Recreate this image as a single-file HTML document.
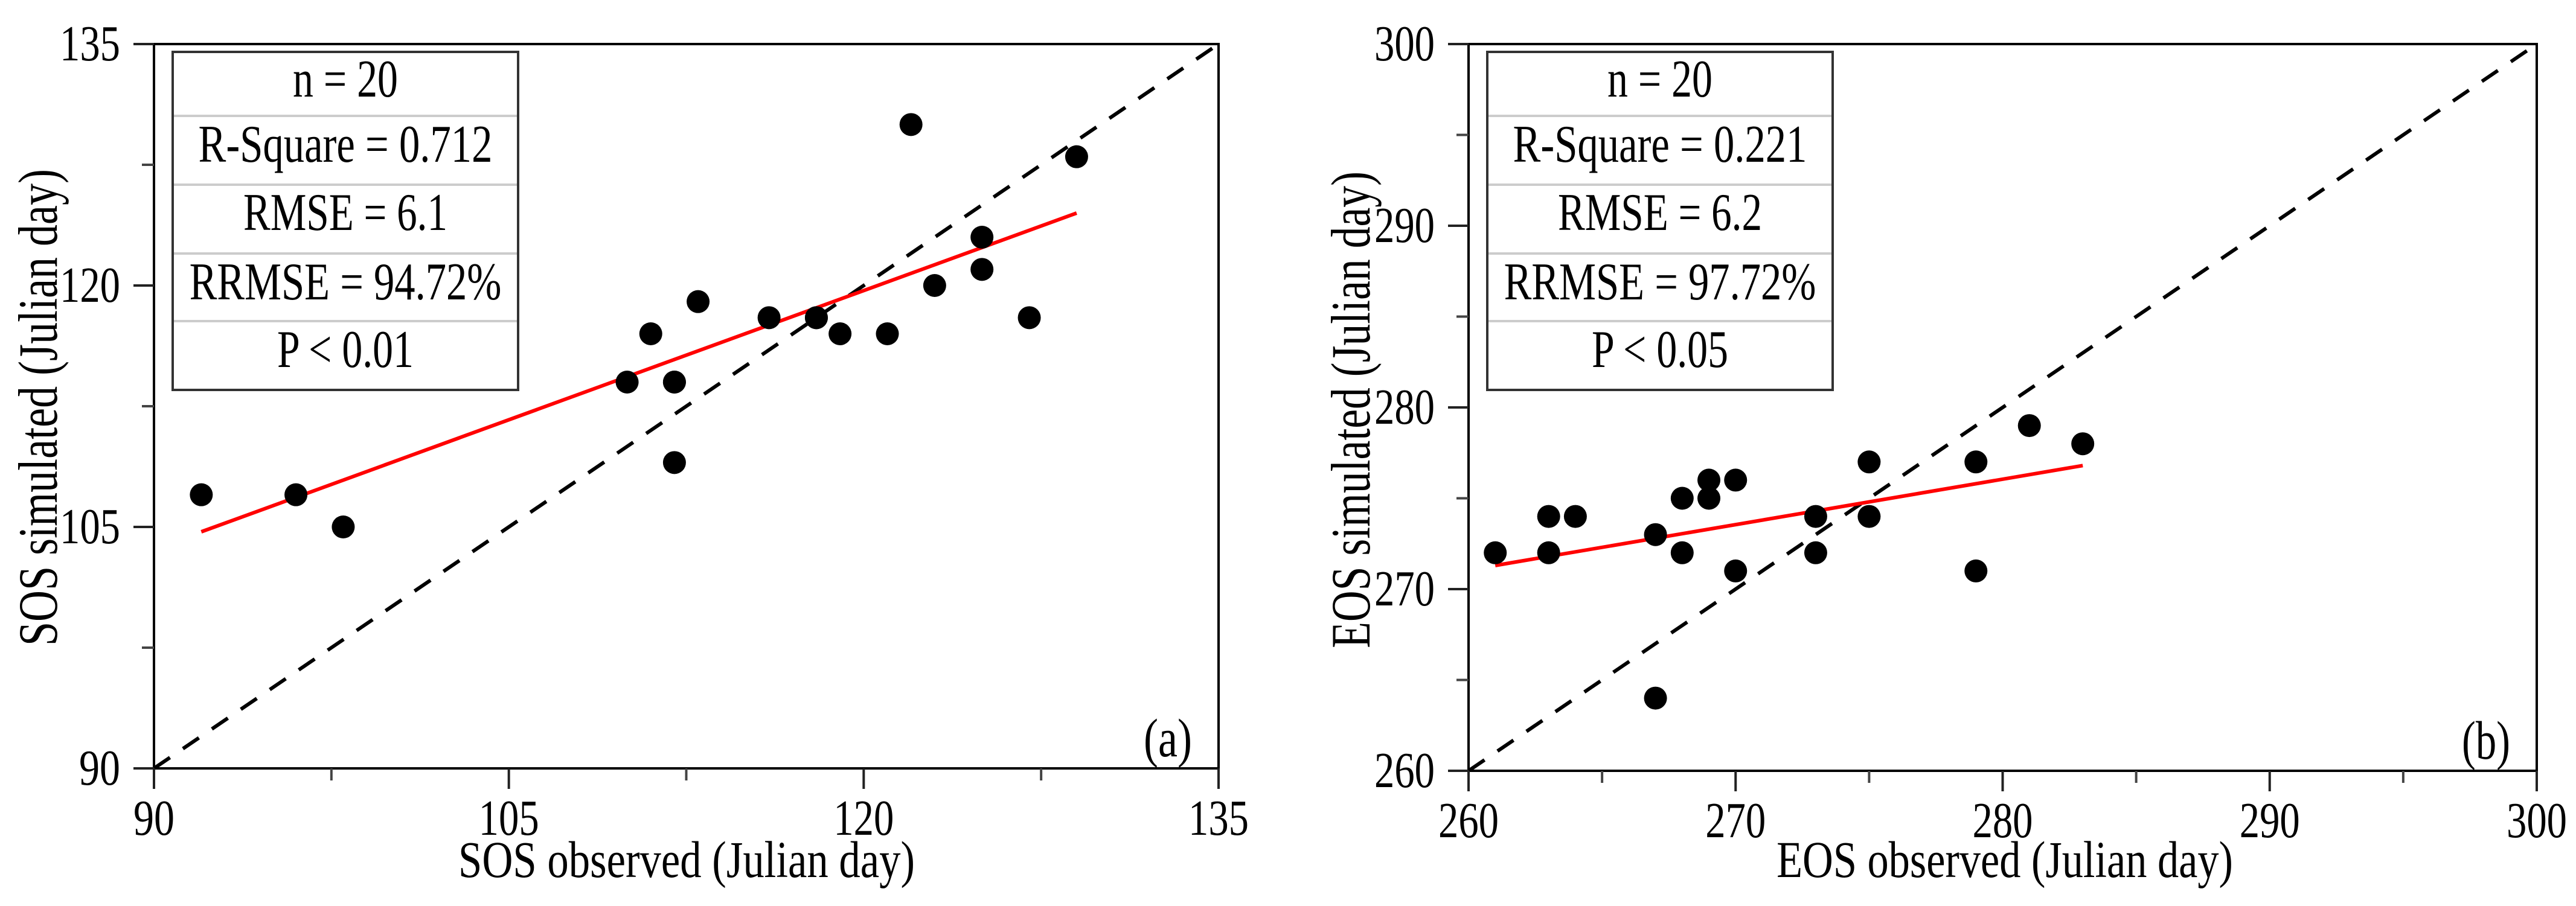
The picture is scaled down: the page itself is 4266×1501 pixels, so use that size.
<!DOCTYPE html>
<html><head><meta charset="utf-8"><style>
html,body{margin:0;padding:0;background:#fff;}
svg{display:block;}
text{font-family:"Liberation Serif","DejaVu Serif",serif;fill:#000;}
</style></head><body>
<svg id="chart" width="4266" height="1501" viewBox="0 0 4266 1501" xmlns="http://www.w3.org/2000/svg">
<rect width="4266" height="1501" fill="#fff"/>
<g id="panelA"></g>
<g id="panelB"></g>
</svg>
<script>
// Panel (a) SOS data
const sosObserved = [92,96,98,110,111,112,112,113,116,118,119,121,122,123,125,125,127,129,118,112];
const sosSimulated = [107,107,105,114,117,114,109,119,118,118,117,117,130,120,123,121,118,128,118,114];
const sosFitX = [92,129];
const sosFitY = [104.7,124.5];
const sosTicks = [90,105,120,135];
const sosStats = ["n = 20","R-Square = 0.712","RMSE = 6.1","RRMSE = 94.72%","P < 0.01"];
// Panel (b) EOS data
const eosObserved = [261,263,263,264,267,267,268,268,269,269,270,270,273,273,275,275,279,279,281,283];
const eosSimulated = [272,274,272,274,273,264,275,272,276,275,276,271,274,272,277,274,277,271,279,278];
const eosFitX = [261,283];
const eosFitY = [271.3,276.8];
const eosTicks = [260,270,280,290,300];
const eosStats = ["n = 20","R-Square = 0.221","RMSE = 6.2","RRMSE = 97.72%","P < 0.05"];

const NS="http://www.w3.org/2000/svg";
function mk(parent,tag,attrs,txt){const e=document.createElementNS(NS,tag);for(const k in attrs)e.setAttribute(k,attrs[k]);if(txt!==undefined)e.textContent=txt;parent.appendChild(e);return e;}
function fitText(parent,str,x,y,size,anchor,width,rot){
  const t=mk(parent,'text',{x:0,y:0,'font-size':size,'text-anchor':anchor},str);
  let w=t.getComputedTextLength();
  if(!w||!isFinite(w)) w=width;
  const k=width/w;
  t.setAttribute('transform',`translate(${x},${y})${rot?' rotate('+rot+')':''} scale(${k},1)`);
  return t;
}

function panel(g,cfg){
  const sx=v=>cfg.x0+(v-cfg.min)/(cfg.max-cfg.min)*(cfg.x1-cfg.x0);
  const sy=v=>cfg.yb-(v-cfg.min)/(cfg.max-cfg.min)*(cfg.yb-cfg.yt);
  const d=mk(g,'line',{x1:sx(cfg.min),y1:sy(cfg.min),x2:sx(cfg.max),y2:sy(cfg.max),stroke:'#000','stroke-width':6,'stroke-dasharray':'32 26'});
  
  
  const f=mk(g,'rect',{x:cfg.x0,y:cfg.yt,width:cfg.x1-cfg.x0,height:cfg.yb-cfg.yt,fill:'none',stroke:'#000','stroke-width':4});
  
  
  for(let i=0;i<cfg.ticks.length;i++){
    const v=cfg.ticks[i];
    const tx=mk(g,'line',{x1:sx(v),y1:cfg.yb,x2:sx(v),y2:cfg.yb+34,stroke:'#222','stroke-width':4});
    
    
    const ty=mk(g,'line',{x1:cfg.x0-34,y1:sy(v),x2:cfg.x0,y2:sy(v),stroke:'#222','stroke-width':4});
    
    
    const s=String(v); const tw=s.length===3?100:68;
    const lx=fitText(g,s,sx(v),cfg.yb+110,84,'middle',tw);
    
    
    const ly=fitText(g,s,cfg.x0-56,sy(v)+27,84,'end',tw);
    
    
    if(i<cfg.ticks.length-1){
      const m=(v+cfg.ticks[i+1])/2;
      const mx=mk(g,'line',{x1:sx(m),y1:cfg.yb,x2:sx(m),y2:cfg.yb+20,stroke:'#444','stroke-width':4});
      
      
      const my=mk(g,'line',{x1:cfg.x0-20,y1:sy(m),x2:cfg.x0,y2:sy(m),stroke:'#444','stroke-width':4});
      
      
    }
  }
  const bx=cfg.x0+31, bw=572, by=86, bh=560;
  const box=mk(g,'rect',{x:bx,y:by,width:bw,height:bh,fill:'#fff',stroke:'#333','stroke-width':4});
  
  
  [192,306,420,532].forEach(y=>{const l=mk(g,'line',{x1:bx+2,y1:y,x2:bx+bw-2,y2:y,stroke:'#ccc','stroke-width':4});
    
    });
  const bases=[160,268,381,496,608];
  const lens=[174,487,338,517,226];
  cfg.stats.forEach((s,i)=>{
    const t=fitText(g,s,bx+bw/2,bases[i],88,'middle',lens[i]);
    
    
  });
  const fl=mk(g,'line',{x1:sx(cfg.fitX[0]),y1:sy(cfg.fitY[0]),x2:sx(cfg.fitX[1]),y2:sy(cfg.fitY[1]),stroke:'#f00','stroke-width':6});
  
  
  for(let i=0;i<cfg.xs.length;i++){
    const c=mk(g,'circle',{cx:sx(cfg.xs[i]),cy:sy(cfg.ys[i]),r:19,fill:'#000'});
    
    
  }
  const xt=fitText(g,cfg.xTitle,cfg.xtX,1453,86,'middle',756);
  
  
  const yt=fitText(g,cfg.yTitle,cfg.ytX,cfg.ytY,92,'middle',790,-90);
  
  
  const pl=fitText(g,cfg.label,cfg.x1-84,cfg.yb-20,90,'middle',80);
  
  
}

panel(document.getElementById('panelA'),{x0:255,x1:2018,yt:73,yb:1273,min:90,max:135,ticks:sosTicks,
  xs:sosObserved,ys:sosSimulated,fitX:sosFitX,fitY:sosFitY,stats:sosStats,
  xTitle:'SOS observed (Julian day)',xtX:1137,yTitle:'SOS simulated (Julian day)',ytX:94,ytY:675,label:'(a)'});
panel(document.getElementById('panelB'),{x0:2432,x1:4201,yt:73,yb:1277,min:260,max:300,ticks:eosTicks,
  xs:eosObserved,ys:eosSimulated,fitX:eosFitX,fitY:eosFitY,stats:eosStats,
  xTitle:'EOS observed (Julian day)',xtX:3320,yTitle:'EOS simulated (Julian day)',ytX:2268,ytY:679,label:'(b)'});
</script>
</body></html>
